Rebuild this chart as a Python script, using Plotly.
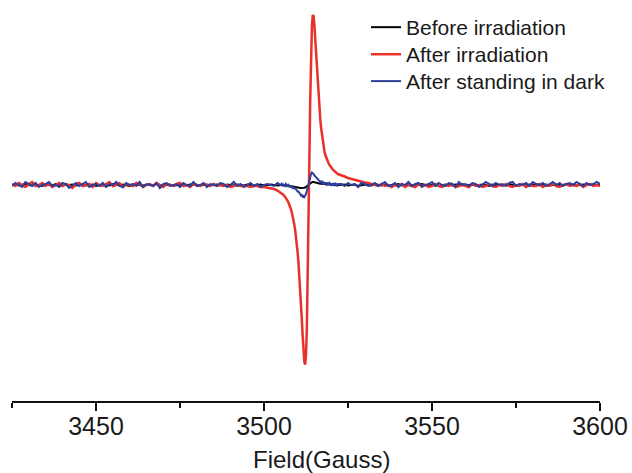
import plotly.graph_objects as go

# ---- field sampling (Gauss) ----
field_left = list(range(3425, 3505))                 # 1 G steps
field_mid = [3505 + 0.25 * i for i in range(69)]      # 0.25 G steps, 3505-3522
field_right = list(range(3523, 3601))                # 1 G steps

# ---- EPR intensities (a.u.) ----
black_left = [0, 0.5, -0.5, 0, 1, 0, -0.5, 0.5, 0, -1,
              0.5, 0, -0.5, 1, 0, -1, 0.5, 0, 0.5, -0.5,
              0, 1, -0.5, 0, 0.5, -1, 0, 0.5, 0, -0.5,
              1, 0, -0.5, 0.5, 0, -1, 0.5, 1, 0, -0.5,
              0, 0.5, -0.5, 1, 0, -0.5, 0, 0.5, -1, 0,
              0.5, 0, -0.5, 0.5, 1, 0, -0.5, 0, 0.5, -0.5,
              0, 0.5, 0, -1, 0.5, 0, -0.5, 0.5, 0, -0.5,
              0.5, 0, -0.5, 0, 0.5, -0.5, 0, 0.5, 0, -0.5]
black_mid = [0, 0.3, -0.2, 0,
             -0.3, 0, -0.5, -0.4,
             -0.6, -0.5, -0.8, -0.9,
             -1, -1.1, -1.3, -1.4,
             -1.5, -1.7, -1.9, -2.1,
             -2.2, -2.4, -2.7, -2.9,
             -3, -3.1, -3.1, -3,
             -2.8, -2.5, -2, -1.5,
             -0.8, 0, 0.8, 1.6,
             2.4, 2.8, 3, 3,
             2.7, 2.5, 2.2, 2,
             1.8, 1.6, 1.5, 1.3,
             1.2, 1.1, 1, 0.9,
             0.8, 0.7, 0.6, 0.6,
             0.5, 0.4, 0.4, 0.3,
             0.3, 0.2, 0.2, 0.1,
             0.1, 0, 0.1, 0,
             0]
black_right = [0, 0.5, -0.5, 0, 0.5, -1, 0, 0.5, 0, -0.5,
               1, 0, -0.5, 0.5, 0, -0.5, 0, 1, -0.5, 0,
               0.5, -0.5, 0, 0.5, 1, 0, -0.5, 0, 0.5, -1,
               0, 0.5, 0, -0.5, 0.5, 0, 1, -0.5, 0, 0.5,
               -0.5, 0, 0.5, 0, -1, 0.5, 0, 0.5, -0.5, 0,
               1, 0, -0.5, 0.5, 0, -0.5, 0.5, 0, 1, -0.5,
               0, 0.5, -0.5, 0, 0.5, 0, -0.5, 1, 0, 0.5,
               -0.5, 0, 0.5, 0, 1, -0.5, 0, 0.5]

red_left = [1, -1, 2, 0, -2, 1, 3, -1, 0, 2,
            -1, 1, -2, 0, 2, -1, 1, 0, -3, 1,
            2, -1, 0, 1, -2, 2, 0, -1, 1, 3,
            -1, 0, 2, -2, 1, 0, -1, 2, 1, -2,
            0, 1, -1, 2, 0, -2, 1, 0, -1, 1,
            2, -1, 0, -2, 1, 0, -1, 1, 0, -1,
            1, -1, 0, -1, 0, -2, -1, 0, -1, -1,
            -1, -2, -1, -1, -2, -2, -2.5, -3, -4, -5.5]
red_mid = [-7.5, -8.1, -8.8, -9.7,
           -10.6, -11.6, -12.8, -14.1,
           -15.6, -17.3, -19.2, -21.4,
           -24.0, -27.0, -30.4, -34.4,
           -39.1, -44.5, -50.9, -58.4,
           -67.2, -77.3, -89.1, -102.6,
           -117.6, -133.9, -150.4, -165.6,
           -176.7, -179.7, -170.2, -143.7,
           -99.1, -39.5, 25.2, 83.7,
           129.3, 157.9, 169.9, 169.0,
           159.7, 145.8, 130.2, 114.7,
           100.1, 87.1, 75.6, 65.6,
           57.0, 49.7, 43.4, 38.1,
           33.5, 30, 27.5, 25,
           23, 21.5, 20, 18.5,
           17.5, 16.5, 15.5, 14.5,
           13.5, 13, 12, 11.5,
           11]
red_right = [10, 8.5, 7, 6, 5, 4, 3, 2.5, 2, 1,
             0, -1, 1, -1, 0, -2, 0, -1, 1, -2,
             0, -1, -2, 1, -1, 0, -2, -1, 1, -1,
             -2, 0, -1, 1, -2, -1, 0, -1, -2, 1,
             -1, 0, -2, -1, 1, -1, -2, 0, -1, 1,
             -1, -2, 0, -1, 1, -2, 0, -1, -1, 1,
             -2, 0, -1, 1, -1, -2, 0, 1, -1, 0,
             -1, 1, -2, 0, 1, -1, 0, -1]

blue_left = [-1, 2, 0, -2, 3, 1, -1, 2, -2, 0,
             1, 3, -1, 0, -2, 2, 1, -3, 0, 2,
             -1, 1, 3, -2, 0, 1, -1, 2, -2, 1,
             0, 3, -1, -2, 2, 0, 1, -1, 3, -2,
             1, 0, -1, 2, -3, 1, 2, -1, 0, 1,
             -2, 2, 0, -1, 3, -1, 0, 2, -2, 1,
             0, -1, 2, 1, -2, 0, 3, -1, 1, -2,
             0, 2, -1, 1, -2, 0, 1, 0, -1, 2]
blue_mid = [0, 1, -1, 0.5,
            0, -1, 1, -0.5,
            -1, 0, -1.5, -1,
            -2, -1.5, -3, -2.5,
            -3.5, -3, -4.5, -5,
            -6.5, -6.5, -8.5, -9,
            -10.5, -10, -11.5, -11,
            -12, -11, -9, -6,
            -2, 2, 6, 9,
            11, 12.5, 12, 11,
            9.5, 8.5, 7, 6,
            5, 4.5, 4, 3,
            3.5, 2, 3, 1.5,
            2, 1, 2.5, 0.5,
            1.5, 0, 2, 1,
            0, 1.5, -0.5, 1,
            0, 2, 0.5, -0.5,
            1]
blue_right = [1, -1, 2, 0, 1, -2, 2, 1, -1, 0,
              2, -1, 1, 3, -1, 0, 2, -2, 1, 0,
              3, -1, 1, 2, -2, 0, 1, 3, -1, 2,
              0, -1, 2, 1, -2, 3, 0, 1, -1, 2,
              1, -2, 0, 3, 1, -1, 2, 0, 1, -1,
              2, 3, -1, 1, 0, 2, -1, 3, 1, 0,
              2, -1, 1, 3, 0, 2, -1, 1, 2, 0,
              3, 1, -1, 2, 0, 1, 3, 1]

series_names = ["Before irradiation", "After irradiation", "After standing in dark"]
series_colors = ["#000000", "#E8312B", "#2E3D9A"]
series_widths = [2, 2.5, 2]
legend_ids = ["legend", "legend2", "legend3"]
legend_tops = [0.9825, 0.915, 0.848]

field = field_left + field_mid + field_right
series_values = [black_left + black_mid + black_right,
                 red_left + red_mid + red_right,
                 blue_left + blue_mid + blue_right]

x_tick_values = [3450, 3500, 3550, 3600]
x_tick_labels = ["3450", "3500", "3550", "3600"]
x_title = "Field(Gauss)"

FONT = "Liberation Sans, Arial, sans-serif"

fig = go.Figure()
for name, color, width, vals, lg in zip(series_names, series_colors, series_widths,
                                         series_values, legend_ids):
    fig.add_trace(go.Scatter(x=field, y=vals, mode="lines", name=name, legend=lg,
                             line=dict(color=color, width=width)))

legend_style = dict(xanchor="left", yanchor="top", x=0.602,
                    font=dict(family=FONT, size=21, color="#1a1a1a"),
                    bgcolor="rgba(0,0,0,0)", borderwidth=0)

fig.update_layout(
    width=632, height=473,
    margin=dict(l=12, r=32, t=0, b=72),
    paper_bgcolor="white", plot_bgcolor="white",
    font=dict(family=FONT, color="#1a1a1a"),
    showlegend=True,
    legend=dict(y=legend_tops[0], **legend_style),
    legend2=dict(y=legend_tops[1], **legend_style),
    legend3=dict(y=legend_tops[2], **legend_style),
    xaxis=dict(range=[3425, 3600], tickmode="array", tickvals=x_tick_values,
               ticktext=x_tick_labels, ticks="outside", ticklen=8, tickwidth=2,
               tickcolor="#111", showline=True, linecolor="#111", linewidth=2,
               showgrid=False, zeroline=False, ticklabelstandoff=-6,
               tickfont=dict(family=FONT, size=25, color="#1a1a1a"),
               minor=dict(tickvals=[3425, 3475, 3525, 3575], ticks="outside",
                          ticklen=5, tickwidth=2, tickcolor="#111", showgrid=False)),
    yaxis=dict(range=[-216, 185], visible=False, showgrid=False, zeroline=False),
    annotations=[dict(text=x_title, xref="paper", yref="paper", x=0.527, y=-0.147,
                      xanchor="center", yanchor="middle", showarrow=False,
                      font=dict(family=FONT, size=24, color="#1a1a1a"))],
)

fig.write_html("out.html", config={"displayModeBar": False},
               post_script="document.body.style.margin='0';document.body.style.overflow='hidden';")
